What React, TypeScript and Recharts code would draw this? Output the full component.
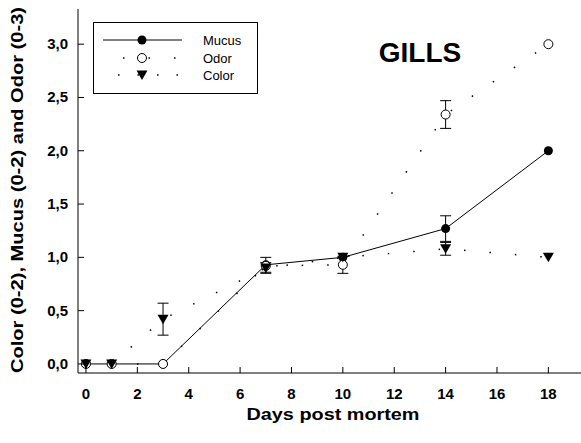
import { ComposedChart, Line, XAxis, YAxis, ErrorBar, Legend } from 'recharts'

const days = [0, 1, 3, 7, 10, 14, 18]
const mucus = [0, 0, 0, 0.93, 1.0, 1.27, 2.0]
const mucusErr = [null, null, null, 0.07, null, 0.12, null]
const odor = [0, 0, 0, 0.92, 0.93, 2.34, 3.0]
const odorErr = [null, null, null, null, 0.08, 0.13, null]
const color = [0, 0, 0.42, 0.9, 1.0, 1.08, 1.0]
const colorErr = [null, null, 0.15, 0.05, null, 0.06, null]

const xTicks = [0, 2, 4, 6, 8, 10, 12, 14, 16, 18]
const yTicks = [0, 0.5, 1, 1.5, 2, 2.5, 3]

const data = days.map((d, i) => ({
  day: d,
  mucus: mucus[i],
  mucusErr: mucusErr[i],
  odor: odor[i],
  odorErr: odorErr[i],
  color: color[i],
  colorErr: colorErr[i],
}))

const FONT = 'Liberation Sans, Arial, sans-serif'
const DOTTED = '1.5 24'

// filled circle
const MucusDot = (p: any) => (
  <circle key={`m-${p.index}`} cx={p.cx} cy={p.cy} r={4.5} fill="#000" />
)

// open circle
const OdorDot = (p: any) => (
  <circle key={`o-${p.index}`} cx={p.cx} cy={p.cy} r={4.5} fill="#fff" stroke="#000" strokeWidth={1} />
)

// down triangle
const Tri = ({ cx, cy }: { cx: number; cy: number }) => (
  <path d={`M${cx - 5.5},${cy - 4.5} L${cx + 5.5},${cy - 4.5} L${cx},${cy + 5} Z`} fill="#000" />
)
const ColorDot = (p: any) => <Tri key={`c-${p.index}`} cx={p.cx} cy={p.cy} />

const XTick = ({ x, y, payload }: any) => (
  <g>
    <line x1={x} x2={x} y1={y} y2={y - 6} stroke="#000" />
    <text x={x} y={y + 26} textAnchor="middle" fontFamily={FONT} fontWeight="bold" fontSize={15} fill="#000">
      {payload.value}
    </text>
  </g>
)

const YTick = ({ x, y, payload }: any) => (
  <g>
    <line x1={x} x2={x + 6} y1={y} y2={y} stroke="#000" />
    <text x={x - 10} y={y + 5} textAnchor="end" fontFamily={FONT} fontWeight="bold" fontSize={15} fill="#000">
      {Number(payload.value).toFixed(1).replace('.', ',')}
    </text>
  </g>
)

const LegendBox = () => (
  <svg width={166} height={73} style={{ display: 'block' }}>
    <rect x={0.5} y={0.5} width={164} height={71} fill="#fff" stroke="#000" />
    <line x1={10} x2={89} y1={18} y2={18} stroke="#000" />
    <circle cx={49} cy={18} r={4.5} fill="#000" />
    <line x1={30} x2={89} y1={36} y2={36} stroke="#000" strokeWidth={1.5} strokeDasharray="1.5 24" />
    <circle cx={49} cy={36} r={4.5} fill="#fff" stroke="#000" />
    <line x1={25} x2={89} y1={53} y2={53} stroke="#000" strokeWidth={1.5} strokeDasharray="1.5 18" />
    <Tri cx={49} cy={53} />
    <g fontFamily={FONT} fontSize={13} fill="#000">
      <text x={110} y={23}>Mucus</text>
      <text x={110} y={41}>Odor</text>
      <text x={110} y={58}>Color</text>
    </g>
  </svg>
)

export default function App() {
  return (
    <div style={{ position: 'absolute', left: 0, top: 0, width: 581, height: 443, background: '#fff' }}>
      <ComposedChart width={581} height={443} data={data} margin={{ top: 9, right: 0, bottom: 0, left: 0 }}>
        <XAxis
          dataKey="day"
          type="number"
          domain={[-0.31, 19.27]}
          ticks={xTicks}
          height={70}
          tickSize={0}
          tickMargin={0}
          tickLine={false}
          axisLine={{ stroke: '#000' }}
          tick={<XTick />}
          interval={0}
        />
        <XAxis xAxisId="top" orientation="top" type="number" domain={[-0.31, 19.27]} height={0} tick={false} tickLine={false} axisLine={{ stroke: '#000' }} />
        <YAxis
          type="number"
          domain={[-0.085, 3.33]}
          ticks={yTicks}
          width={78}
          tickSize={0}
          tickMargin={0}
          tickLine={false}
          axisLine={{ stroke: '#000' }}
          tick={<YTick />}
          interval={0}
        />
        <Legend
          layout="horizontal"
          verticalAlign="middle"
          align="center"
          wrapperStyle={{ position: 'absolute', left: 93, top: 22, width: 166, height: 73 }}
          content={() => <LegendBox />}
        />
        <Line
          dataKey="mucus"
          stroke="#000"
          strokeWidth={1}
          dot={MucusDot}
          activeDot={false}
          isAnimationActive={false}
        >
          <ErrorBar dataKey="mucusErr" width={5.5} stroke="#000" strokeWidth={1} direction="y" />
        </Line>
        <Line
          dataKey="odor"
          stroke="#000"
          strokeWidth={1.5}
          strokeDasharray={DOTTED}
          dot={OdorDot}
          activeDot={false}
          isAnimationActive={false}
        >
          <ErrorBar dataKey="odorErr" width={5.5} stroke="#000" strokeWidth={1} direction="y" />
        </Line>
        <Line
          dataKey="color"
          stroke="#000"
          strokeWidth={1.5}
          strokeDasharray={DOTTED}
          dot={ColorDot}
          activeDot={false}
          isAnimationActive={false}
        >
          <ErrorBar dataKey="colorErr" width={5.5} stroke="#000" strokeWidth={1} direction="y" />
        </Line>
        <text x={420} y={62} textAnchor="middle" fontFamily={FONT} fontWeight="bold" fontSize={28} fill="#000">
          GILLS
        </text>
        <text
          x={333}
          y={420}
          textAnchor="middle"
          fontFamily={FONT}
          fontWeight="bold"
          fontSize={17}
          textLength={173}
          lengthAdjust="spacingAndGlyphs"
          fill="#000"
        >
          Days post mortem
        </text>
        <text
          x={0}
          y={0}
          transform="translate(23,190) rotate(-90)"
          textAnchor="middle"
          fontFamily={FONT}
          fontWeight="bold"
          fontSize={17}
          textLength={366}
          lengthAdjust="spacingAndGlyphs"
          fill="#000"
        >
          Color (0-2), Mucus (0-2) and Odor (0-3)
        </text>
      </ComposedChart>
    </div>
  )
}
